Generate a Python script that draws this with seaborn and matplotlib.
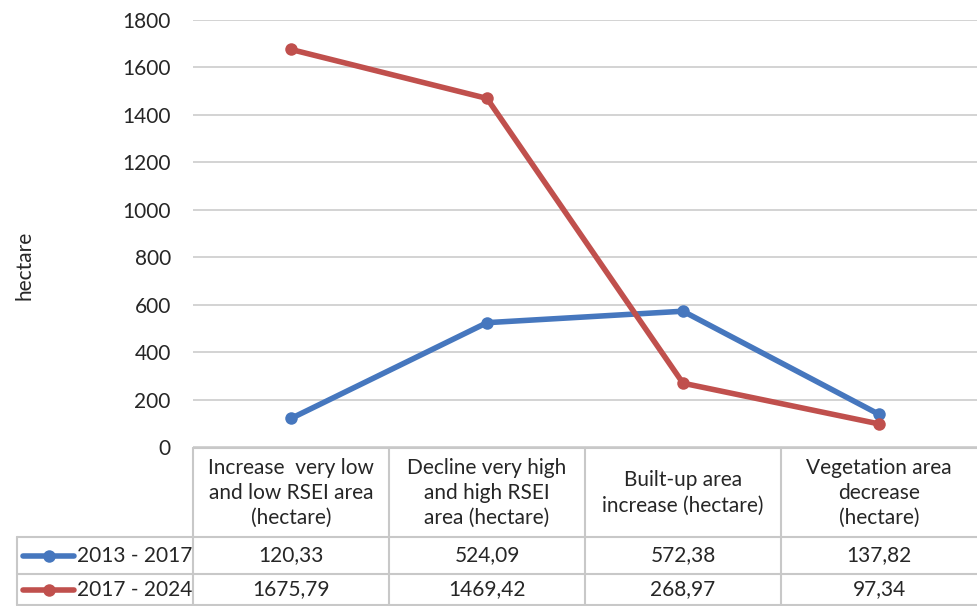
import numpy as np
import pandas as pd
import matplotlib.pyplot as plt
import seaborn as sns

# Dados
categorias = [
    "Increase  very low\nand low RSEI area\n(hectare)",
    "Decline very high\nand high RSEI\narea (hectare)",
    "Built-up area\nincrease (hectare)",
    "Vegetation area\ndecrease\n(hectare)",
]
series = ["2013 - 2017", "2017 - 2024"]
valores_2013_2017 = [120.33, 524.09, 572.38, 137.82]
valores_2017_2024 = [1675.79, 1469.42, 268.97, 97.34]
cores = ["#4677BE", "#C0504D"]

df = pd.DataFrame({
    "pos": list(range(len(categorias))) * 2,
    "valor": valores_2013_2017 + valores_2017_2024,
    "serie": [series[0]] * 4 + [series[1]] * 4,
})

sns.set_style("white")
plt.rcParams["font.family"] = ["Lato", "DejaVu Sans"]
fs = 15
cor_txt = "#262626"

W, H = 977, 606
fig = plt.figure(figsize=(W / 100, H / 100), dpi=100)

def fx(px):
    return px / W

def fy(py):
    return 1 - py / H

left, right, top, bottom = 193, 977, 20, 447
ax = fig.add_axes([fx(left), fy(bottom), fx(right - left), fy(top) - fy(bottom)])

sns.lineplot(data=df, x="pos", y="valor", hue="serie", palette=cores,
             marker="o", markersize=9, markeredgewidth=0, linewidth=4,
             legend=False, ax=ax)

ax.set_xlim(-0.5, len(categorias) - 0.5)
ax.set_ylim(0, 1800)
ax.set_yticks(np.arange(0, 1801, 200))
ax.set_xticks([])
ax.set_xlabel("")
ax.set_ylabel("")
ax.yaxis.grid(True, color="#D0D0D0", linewidth=1.3)
ax.set_axisbelow(True)
for s in ["top", "right", "left", "bottom"]:
    ax.spines[s].set_visible(False)
ax.tick_params(axis="y", length=0, pad=16, labelsize=fs, labelcolor=cor_txt)

fig.text(fx(24), fy(265), "hectare", rotation=90, ha="center", va="center",
         fontsize=fs, color=cor_txt)

# Tabela de dados
linha = dict(color="#C8C8C8", linewidth=1.5)
col_w = (right - left) / len(categorias)
cols = [left + i * col_w for i in range(len(categorias) + 1)]
y_top, y_r1, y_r2, y_bot = 448, 537, 574, 605
tab_left = 17

fig.add_artist(plt.Line2D([fx(left), fx(right)], [fy(y_top), fy(y_top)], **linha))
for ypx in (y_r1, y_r2, y_bot):
    fig.add_artist(plt.Line2D([fx(tab_left), fx(right)], [fy(ypx), fy(ypx)], **linha))
for xpx in cols[:-1]:
    fig.add_artist(plt.Line2D([fx(xpx), fx(xpx)], [fy(y_top), fy(y_bot)], **linha))
fig.add_artist(plt.Line2D([fx(tab_left), fx(tab_left)], [fy(y_r1), fy(y_bot)], **linha))

for i, cat in enumerate(categorias):
    cx = (cols[i] + cols[i + 1]) / 2
    fig.text(fx(cx), fy(493), cat, ha="center", va="center", fontsize=fs,
             color=cor_txt, linespacing=1.32)

for row, (nome, vals, cor) in enumerate(zip(series, [valores_2013_2017, valores_2017_2024], cores)):
    cy = (y_r1 + y_r2) / 2 if row == 0 else (y_r2 + y_bot) / 2
    fig.add_artist(plt.Line2D([fx(23), fx(48.5), fx(74)], [fy(cy)] * 3, color=cor,
                              linewidth=4, marker="o", markevery=[1],
                              markersize=9, markeredgewidth=0))
    fig.text(fx(77), fy(cy), nome, ha="left", va="center", fontsize=fs, color=cor_txt)
    for i, v in enumerate(vals):
        cx = (cols[i] + cols[i + 1]) / 2
        fig.text(fx(cx), fy(cy), f"{v:.2f}".replace(".", ","), ha="center",
                 va="center", fontsize=fs, color=cor_txt)

plt.savefig("out.png", dpi=100)
